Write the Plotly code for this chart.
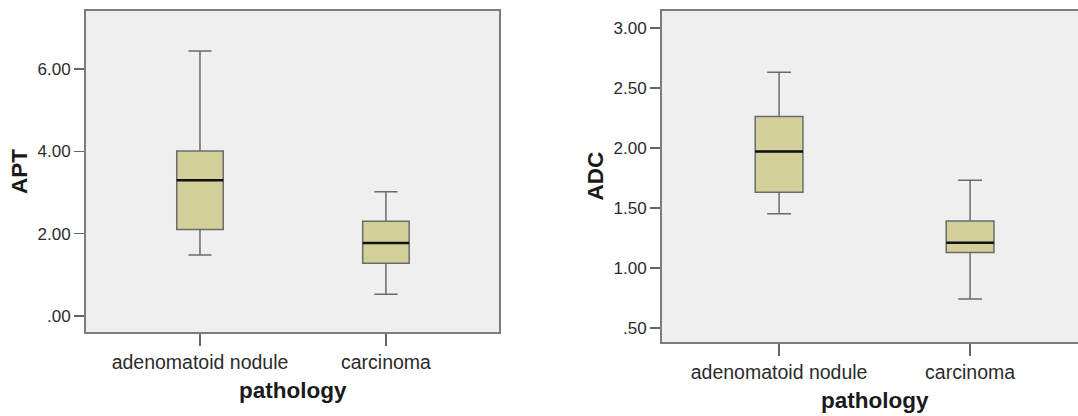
import plotly.graph_objects as go

# ---- data ----
categories = ["adenomatoid nodule", "carcinoma"]

apt_lower = [1.48, 0.53]
apt_q1 = [2.10, 1.28]
apt_median = [3.30, 1.77]
apt_q3 = [4.01, 2.30]
apt_upper = [6.44, 3.02]

adc_lower = [1.45, 0.74]
adc_q1 = [1.63, 1.127]
adc_median = [1.97, 1.21]
adc_q3 = [2.26, 1.39]
adc_upper = [2.63, 1.73]

apt_tickvals = [0, 2, 4, 6]
apt_ticktext = [".00", "2.00", "4.00", "6.00"]
adc_tickvals = [0.5, 1.0, 1.5, 2.0, 2.5, 3.0]
adc_ticktext = [".50", "1.00", "1.50", "2.00", "2.50", "3.00"]

# ---- style ----
FONT = "Liberation Sans, Arial, sans-serif"
FILL = "#d4d09a"
EDGE = "#6b6b6b"
FRAME = "#7d7d7d"
W, H = 1078, 416

fig = go.Figure()


def add_boxes(xa, ya, lower, q1, med, q3, upper):
    fig.add_trace(go.Box(
        x=categories, lowerfence=lower, q1=q1, median=med, q3=q3, upperfence=upper,
        xaxis=xa, yaxis=ya, width=0.25, whiskerwidth=0.5,
        fillcolor=FILL, line=dict(color=EDGE, width=1.5),
        boxpoints=False, showlegend=False, hoverinfo="skip"))
    # median line in black drawn as a degenerate box
    fig.add_trace(go.Box(
        x=categories, lowerfence=med, q1=med, median=med, q3=med, upperfence=med,
        xaxis=xa, yaxis=ya, width=0.25, whiskerwidth=1,
        fillcolor="rgba(0,0,0,0)", line=dict(color="#111111", width=2.5),
        boxpoints=False, showlegend=False, hoverinfo="skip"))


add_boxes("x", "y", apt_lower, apt_q1, apt_median, apt_q3, apt_upper)
add_boxes("x2", "y2", adc_lower, adc_q1, adc_median, adc_q3, adc_upper)

common_x = dict(
    type="category", showline=True, linecolor=FRAME, linewidth=2, mirror=True,
    ticks="outside", ticklen=12, tickwidth=1.5, tickcolor="#666666",
    showgrid=False, zeroline=False,
    tickfont=dict(family=FONT, size=19.5, color="#2b2b2b"),
)
common_y = dict(
    showline=True, linecolor=FRAME, linewidth=2,
    ticks="outside", ticklen=10, tickwidth=1.5, tickcolor="#666666",
    showgrid=False, zeroline=False,
    tickfont=dict(family=FONT, size=17, color="#2b2b2b"),
)

fig.update_layout(
    width=W, height=H,
    margin=dict(l=0, r=0, t=0, b=0),
    paper_bgcolor="white",
    plot_bgcolor="#efefef",
    boxmode="overlay",
    xaxis=dict(common_x, domain=[86 / W, 499 / W], range=[-0.613, 1.608], anchor="y"),
    yaxis=dict(common_y, domain=[(H - 332) / H, (H - 11) / H], range=[-0.39, 7.41],
               tickvals=apt_tickvals, ticktext=apt_ticktext, mirror=True, anchor="x"),
    xaxis2=dict(common_x, domain=[662 / W, 1.0], range=[-0.613, 1.565], anchor="y2"),
    yaxis2=dict(common_y, domain=[(H - 342) / H, (H - 11) / H], range=[0.382, 3.14],
                tickvals=adc_tickvals, ticktext=adc_ticktext, mirror=False, anchor="x2"),
)

title_font = dict(family=FONT, size=22.5, color="#1a1a1a")
annotations = [
    dict(text="<b>APT</b>", x=19.5 / W, y=(H - 171.5) / H, textangle=-90),
    dict(text="<b>ADC</b>", x=595 / W, y=(H - 176.5) / H, textangle=-90),
    dict(text="<b>pathology</b>", x=293 / W, y=(H - 390) / H),
    dict(text="<b>pathology</b>", x=874.5 / W, y=(H - 400) / H),
]
for a in annotations:
    fig.add_annotation(xref="paper", yref="paper", showarrow=False,
                       xanchor="center", yanchor="middle", font=title_font, **a)

fig.write_html(
    "out.html",
    config={"displayModeBar": False, "staticPlot": True},
    post_script="document.body.style.margin='0';document.body.style.overflow='hidden';",
)
